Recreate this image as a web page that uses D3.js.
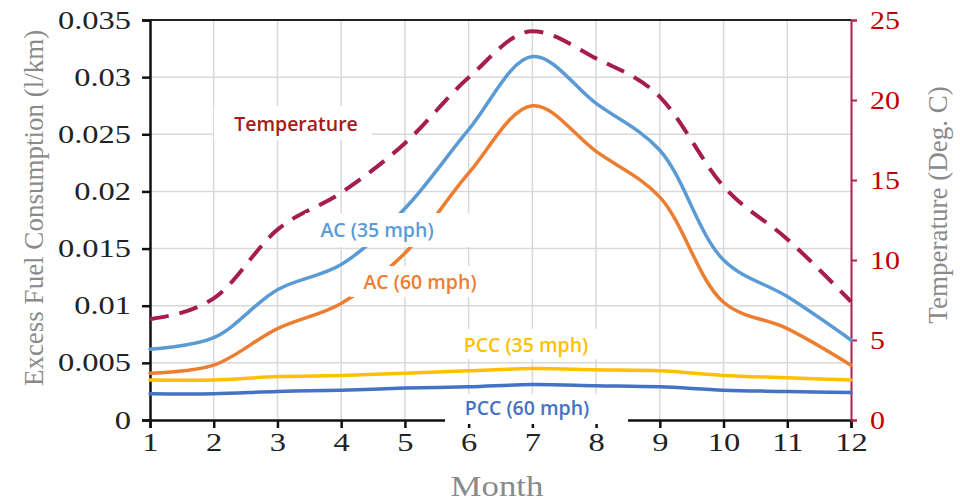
<!DOCTYPE html>
<html>
<head>
<meta charset="utf-8">
<script src="https://cdn.jsdelivr.net/npm/d3@7"></script>
<style>
  body { margin: 0; background: #fff; }
  svg { display: block; }
  .tick text { font-family: "Liberation Serif", serif; }
  .lbl { font-family: "Open Sans", sans-serif; font-weight: 600; font-size: 19.5px; }
</style>
</head>
<body>
<svg id="chart" width="960" height="501"></svg>
<script>
var months = [1, 2, 3, 4, 5, 6, 7, 8, 9, 10, 11, 12];
var ac35 = [0.0062, 0.0072, 0.0114, 0.0136, 0.0185, 0.0254, 0.0318, 0.0277, 0.0236, 0.0140, 0.0108, 0.0070];
var ac60 = [0.0041, 0.0048, 0.0080, 0.0102, 0.0146, 0.0216, 0.0275, 0.0235, 0.0195, 0.0103, 0.0080, 0.0048];
var pcc35 = [0.0035, 0.0035, 0.0038, 0.0039, 0.0041, 0.0043, 0.0045, 0.0044, 0.0043, 0.0039, 0.0037, 0.0035];
var pcc60 = [0.0023, 0.0023, 0.0025, 0.0026, 0.0028, 0.0029, 0.0031, 0.0030, 0.0029, 0.0026, 0.0025, 0.0024];
var temperature = [6.3, 7.6, 11.9, 14.2, 17.3, 21.4, 24.3, 22.6, 20.2, 14.6, 11.3, 7.4];
var fuelTicks = [0, 0.005, 0.01, 0.015, 0.02, 0.025, 0.03, 0.035];
var tempTicks = [0, 5, 10, 15, 20, 25];

var margin = {top: 20, right: 109, bottom: 81, left: 150};
var svg = d3.select("#chart");
var width = 960 - margin.left - margin.right;
var height = 501 - margin.top - margin.bottom;
var g = svg.append("g").attr("transform", "translate(" + margin.left + "," + margin.top + ")");
var stretch = 1.3; // the source picture's digits are wide

var x = d3.scaleLinear().domain([1, 12]).range([0, width]);
var y = d3.scaleLinear().domain([0, 0.035]).range([height, 0]);
var yT = d3.scaleLinear().domain([0, 25]).range([height, 0]);

// grid
g.append("g").selectAll("line.v").data(months.slice(1, 11)).enter().append("line")
  .attr("x1", function(d) { return x(d); }).attr("x2", function(d) { return x(d); })
  .attr("y1", 0).attr("y2", height)
  .style("stroke", "#d9d9d9").style("stroke-width", 1.5);
g.append("g").selectAll("line.h").data(fuelTicks.slice(1)).enter().append("line")
  .attr("x1", 0).attr("x2", width)
  .attr("y1", function(d) { return y(d); }).attr("y2", function(d) { return y(d); })
  .style("stroke", "#d9d9d9").style("stroke-width", 1.5);

// top border
g.append("line").attr("x1", 0).attr("x2", width).attr("y1", 0).attr("y2", 0)
  .style("stroke", "#222").style("stroke-width", 2);

var xAxis = g.append("g").attr("transform", "translate(0," + height + ")")
  .call(d3.axisBottom(x).tickValues(months).tickFormat(d3.format("d")).tickSize(8).tickPadding(5));
xAxis.selectAll("path, line").style("stroke", "#111").style("stroke-width", 2.5);
xAxis.selectAll("text").style("font-size", "25px").style("fill", "#222")
  .attr("transform", "scale(" + stretch + ",1)");

var yAxis = g.append("g")
  .call(d3.axisLeft(y).tickValues(fuelTicks).tickFormat(function(d) { return d === 0 ? "0" : d3.format("")(+d.toFixed(3)); }).tickSize(8).tickPadding(10));
yAxis.selectAll("path, line").style("stroke", "#111").style("stroke-width", 2.5);
yAxis.selectAll("text").style("font-size", "25px").style("fill", "#222")
  .attr("x", -19 / stretch).attr("transform", "scale(" + stretch + ",1)");

var yAxisR = g.append("g").attr("transform", "translate(" + width + ",0)")
  .call(d3.axisRight(yT).tickValues(tempTicks).tickSize(6).tickPadding(12));
yAxisR.selectAll("path, line").style("stroke", "#b0204f").style("stroke-width", 2);
yAxisR.selectAll("text").style("font-size", "25px").style("fill", "#c00000")
  .attr("x", 19 / 1.2).attr("transform", "scale(1.2,1)");

// axis titles
svg.append("text").attr("transform", "translate(34,208) rotate(-90)")
  .attr("text-anchor", "middle").attr("dominant-baseline", "central")
  .style("font-family", "Liberation Serif, serif").style("font-size", "27px")
  .style("fill", "#8a8a8a").text("Excess Fuel Consumption (l/km)");
svg.append("text").attr("transform", "translate(938,205) rotate(-90)")
  .attr("text-anchor", "middle").attr("dominant-baseline", "central")
  .style("font-family", "Liberation Serif, serif").style("font-size", "27px")
  .style("fill", "#8a8a8a").text("Temperature (Deg. C)");
svg.append("text").attr("transform", "translate(497,496) scale(1.2,1)").attr("text-anchor", "middle")
  .style("font-family", "Liberation Serif, serif").style("font-size", "29px")
  .style("fill", "#8a8a8a").text("Month");

var line = d3.line().curve(d3.curveCatmullRom.alpha(0.5))
  .x(function(d, i) { return x(months[i]); })
  .y(function(d) { return y(d); });
var lineT = d3.line().curve(d3.curveMonotoneX)
  .x(function(d, i) { return x(months[i]); })
  .y(function(d) { return yT(d); });

var series = [
  {values: pcc60, color: "#4472c4"},
  {values: pcc35, color: "#ffc000"},
  {values: ac60, color: "#ed7d31"},
  {values: ac35, color: "#5b9bd5"}
];
g.selectAll("path.series").data(series).enter().append("path")
  .attr("class", "series")
  .attr("d", function(d) { return line(d.values); })
  .style("fill", "none").style("stroke", function(d) { return d.color; })
  .style("stroke-width", 3.5).style("stroke-linecap", "round");

g.append("path").attr("d", lineT(temperature))
  .style("fill", "none").style("stroke", "#a61c4f").style("stroke-width", 4)
  .style("stroke-dasharray", "19,11");

// labels with white boxes
var labels = [
  {text: "Temperature", cx: 296, cy: 123, color: "#a31c1c", box: [214, 106, 158, 34]},
  {text: "AC (35 mph)", cx: 377, cy: 229, color: "#5b9bd5", box: [305, 213, 168, 34]},
  {text: "AC (60 mph)", cx: 420, cy: 281, color: "#ed7d31", box: [350, 266, 136, 31]},
  {text: "PCC (35 mph)", cx: 526, cy: 344, color: "#ffc000", box: [452, 329, 150, 30]},
  {text: "PCC (60 mph)", cx: 527, cy: 407, color: "#4472c4", box: [445, 394, 183, 30]}
];
svg.selectAll("rect.lblbox").data(labels).enter().append("rect")
  .attr("class", "lblbox")
  .attr("x", function(d) { return d.box[0]; }).attr("y", function(d) { return d.box[1]; })
  .attr("width", function(d) { return d.box[2]; }).attr("height", function(d) { return d.box[3]; })
  .style("fill", "#fff");
svg.selectAll("text.lbl").data(labels).enter().append("text")
  .attr("class", "lbl")
  .attr("x", function(d) { return d.cx; }).attr("y", function(d) { return d.cy; })
  .attr("text-anchor", "middle").attr("dominant-baseline", "central")
  .style("fill", function(d) { return d.color; })
  .text(function(d) { return d.text; });
</script>
</body>
</html>
